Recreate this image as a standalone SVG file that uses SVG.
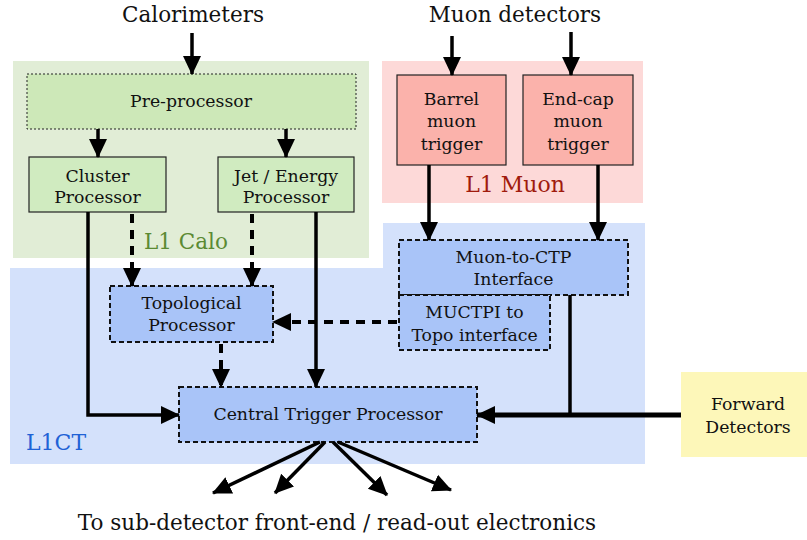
<svg xmlns="http://www.w3.org/2000/svg" width="807" height="540" viewBox="0 0 807 540">
<style>
text{font-family:"DejaVu Serif","Liberation Serif",serif;fill:#111;text-anchor:middle}
.big{font-size:21.5px}
.box{font-size:17.3px}
.sol{stroke:#000;stroke-width:3.5;fill:none}
.dsh{stroke:#000;stroke-width:4;fill:none;stroke-dasharray:9 7}
.bdash{stroke:#111;stroke-width:2;stroke-dasharray:5 3}
</style>
<defs>
<marker id="ah" markerUnits="userSpaceOnUse" markerWidth="20" markerHeight="20" viewBox="0 0 20 20" refX="18" refY="10" orient="auto">
<path d="M0,1 L19,10 L0,19 Z" fill="#000"/>
</marker>
</defs>
<g id="regions">
<rect x="13" y="61" width="356" height="197" fill="#e1edd6"/>
<rect x="382" y="61" width="261" height="142" fill="#fdd9d8"/>
<path d="M10,268 H383 V223 H645 V464 H10 Z" fill="#d4e1fb"/>
<text x="186" y="249" style="font-size:21.5px;fill:#5b8a33">L1 Calo</text>
<text x="515" y="192" style="font-size:22px;fill:#a01b0d">L1 Muon</text>
<text x="56" y="450" style="font-size:22px;fill:#1f62d6">L1CT</text>
</g>
<g id="labels">
<text class="big" x="193" y="22">Calorimeters</text>
<text class="big" x="515" y="22">Muon detectors</text>
<text class="big" x="337" y="530">To sub-detector front-end / read-out electronics</text>
</g>
<g id="preprocessor">
<rect x="27" y="74" width="329" height="55" fill="#cde8b8" stroke="#222" stroke-width="1" stroke-dasharray="2 2"/>
<text class="box" x="191" y="107">Pre-processor</text>
</g>
<g id="cluster">
<rect x="29" y="157" width="137" height="55" fill="#d0ebc0" stroke="#222" stroke-width="1.2"/>
<text class="box" x="97.5" y="182">Cluster</text>
<text class="box" x="97.5" y="203">Processor</text>
</g>
<g id="jet">
<rect x="218" y="157" width="136" height="55" fill="#d0ebc0" stroke="#222" stroke-width="1.2"/>
<text class="box" x="286" y="182">Jet / Energy</text>
<text class="box" x="286" y="203">Processor</text>
</g>
<g id="barrel">
<rect x="397" y="75" width="109" height="90" fill="#fbb2ab" stroke="#222" stroke-width="1.2"/>
<text class="box" x="451.5" y="105">Barrel</text>
<text class="box" x="451.5" y="127">muon</text>
<text class="box" x="451.5" y="150">trigger</text>
</g>
<g id="endcap">
<rect x="523" y="75" width="110" height="90" fill="#fbb2ab" stroke="#222" stroke-width="1.2"/>
<text class="box" x="578" y="105">End-cap</text>
<text class="box" x="578" y="127">muon</text>
<text class="box" x="578" y="150">trigger</text>
</g>
<g id="muctpi">
<rect x="399" y="240" width="229" height="55" fill="#a9c4f8" class="bdash"/>
<text class="box" x="513.5" y="263">Muon-to-CTP</text>
<text class="box" x="513.5" y="285">Interface</text>
</g>
<g id="muctpitopo">
<rect x="399" y="295" width="151" height="55" fill="#a9c4f8" class="bdash"/>
<text class="box" x="474.5" y="318">MUCTPI to</text>
<text class="box" x="474.5" y="341">Topo interface</text>
</g>
<g id="topo">
<rect x="110" y="286" width="163" height="56" fill="#a9c4f8" class="bdash"/>
<text class="box" x="191.5" y="309">Topological</text>
<text class="box" x="191.5" y="331">Processor</text>
</g>
<g id="ctp">
<rect x="179" y="387" width="298" height="55" fill="#a9c4f8" class="bdash"/>
<text class="box" x="328" y="420">Central Trigger Processor</text>
</g>
<g id="forward">
<rect x="681" y="372" width="126" height="85" fill="#fdf7b9"/>
<text class="box" x="748" y="410">Forward</text>
<text class="box" x="748" y="433">Detectors</text>
</g>
<g id="connectors">
<line class="sol" x1="192" y1="33" x2="192" y2="74" marker-end="url(#ah)"/>
<line class="sol" x1="452" y1="36" x2="452" y2="75" marker-end="url(#ah)"/>
<line class="sol" x1="571" y1="32" x2="571" y2="75" marker-end="url(#ah)"/>
<line class="sol" x1="98" y1="129" x2="98" y2="157" marker-end="url(#ah)"/>
<line class="sol" x1="286" y1="129" x2="286" y2="157" marker-end="url(#ah)"/>
<line class="sol" x1="429" y1="165" x2="429" y2="240" marker-end="url(#ah)"/>
<line class="sol" x1="598" y1="165" x2="598" y2="240" marker-end="url(#ah)"/>
<path class="sol" d="M88,212 V415 H179" marker-end="url(#ah)"/>
<line class="dsh" x1="132" y1="214" x2="132" y2="286" marker-end="url(#ah)"/>
<line class="dsh" x1="252" y1="214" x2="252" y2="286" marker-end="url(#ah)"/>
<line class="sol" x1="316" y1="212" x2="316" y2="387" marker-end="url(#ah)"/>
<line class="dsh" x1="221" y1="344" x2="221" y2="387" marker-end="url(#ah)"/>
<line class="dsh" x1="397" y1="322" x2="273" y2="322" marker-end="url(#ah)"/>
<line class="sol" x1="570" y1="295" x2="570" y2="415"/>
<line stroke="#000" stroke-width="5" x1="681" y1="415" x2="477" y2="415" marker-end="url(#ah)"/>
<line class="sol" x1="320" y1="442" x2="213" y2="493" marker-end="url(#ah)"/>
<line class="sol" x1="325" y1="442" x2="275" y2="493" marker-end="url(#ah)"/>
<line class="sol" x1="333" y1="442" x2="387" y2="495" marker-end="url(#ah)"/>
<line class="sol" x1="338" y1="442" x2="451" y2="490" marker-end="url(#ah)"/>
</g>
</svg>
